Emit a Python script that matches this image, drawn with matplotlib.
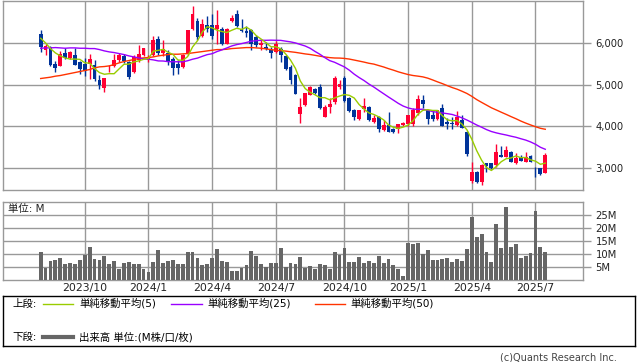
import numpy as np
import pandas as pd
import matplotlib
matplotlib.use('Agg')
import matplotlib.pyplot as plt

plt.rcParams['font.family'] = ['DejaVu Sans', 'Noto Sans CJK JP']

# 週足データ（2023/7/31 から 104 本）
dates = pd.date_range('2023-07-31', periods=104, freq='7D')

opens = [6232, 5848, 5912, 5496, 5456, 5768, 5656, 5712, 5552, 5496,
         5512, 5472, 5112, 4920, 5400, 5456, 5592, 5704, 5552, 5312,
         5592, 5712, 5592, 5728, 6112, 5768, 5776, 5632, 5496, 5432,
         5744, 6352, 6528, 6176, 6432, 6432, 6352, 6336, 5992, 6536,
         6712, 6352, 6296, 6312, 6152, 5952, 5912, 5832, 5792, 5872,
         5696, 5432, 5232, 4296, 4512, 4752, 4888, 4936, 4232, 4456,
         4592, 4936, 5176, 4672, 4392, 4168, 4408, 4472, 4112, 4232,
         3912, 4032, 3928, 3928, 4032, 4056, 4056, 4312, 4632, 4392,
         4272, 4168, 4432, 4112, 4088, 4032, 4152, 3872, 2688, 2912,
         2672, 3112, 3112, 3072, 3312, 3272, 3392, 3112, 3256, 3152,
         3288, 3000, 2992, 2872]
highs = [6312, 5992, 5928, 5568, 5808, 5888, 5808, 5888, 5576, 5656,
         5736, 5592, 5232, 5176, 5488, 5752, 5768, 5752, 5568, 5712,
         5952, 5896, 5712, 6168, 6168, 6072, 5832, 5672, 5592, 5736,
         6312, 6896, 6616, 6576, 6656, 6696, 6792, 6392, 6360, 6672,
         6792, 6576, 6408, 6352, 6192, 6112, 6032, 5912, 6048, 5912,
         5712, 5472, 5272, 4688, 4808, 4968, 4912, 5032, 4512, 4672,
         5208, 5128, 5208, 4712, 4408, 4400, 4672, 4480, 4272, 4248,
         4152, 4352, 3952, 4056, 4112, 4272, 4432, 4752, 4752, 4392,
         4392, 4400, 4536, 4192, 4216, 4368, 4272, 3880, 3136, 2936,
         3088, 3112, 3120, 3576, 3536, 3536, 3400, 3352, 3312, 3392,
         3312, 3032, 3000, 3352]
lows = [5792, 5712, 5456, 5312, 5456, 5624, 5632, 5472, 5272, 5208,
        5136, 5096, 4896, 4832, 5312, 5432, 5552, 5528, 5144, 5288,
        5552, 5688, 5552, 5688, 5712, 5688, 5472, 5232, 5272, 5408,
        5712, 6328, 6088, 6152, 6272, 6096, 5992, 5952, 5984, 6512,
        6392, 6272, 6152, 5832, 5912, 5848, 5832, 5656, 5768, 5552,
        5352, 5016, 4776, 4088, 4488, 4744, 4776, 4408, 4216, 4312,
        4536, 4888, 4592, 4352, 4152, 4160, 4352, 4136, 4088, 3872,
        3896, 3872, 3848, 3848, 4008, 4008, 4008, 4272, 4432, 4056,
        4136, 4160, 4008, 3928, 3928, 4008, 3952, 3288, 2648, 2632,
        2592, 2912, 2968, 3032, 3256, 3264, 3152, 3088, 3168, 3136,
        3136, 2792, 2832, 2872]
closes = [5912, 5928, 5488, 5408, 5752, 5656, 5792, 5488, 5376, 5336,
          5616, 5136, 5008, 5176, 5408, 5608, 5712, 5568, 5192, 5672,
          5736, 5896, 5672, 6072, 5768, 5856, 5552, 5408, 5408, 5712,
          6312, 6712, 6152, 6472, 6336, 6176, 6432, 5992, 6352, 6608,
          6416, 6296, 6256, 5992, 5952, 6008, 5856, 5768, 5992, 5712,
          5392, 5112, 4776, 4472, 4792, 4952, 4808, 4432, 4472, 4536,
          5176, 5032, 4616, 4376, 4216, 4392, 4488, 4152, 4192, 3928,
          4032, 3872, 3872, 4056, 4088, 4272, 4392, 4648, 4536, 4168,
          4176, 4392, 4008, 4048, 4048, 4216, 3952, 3336, 2912, 2672,
          3072, 3056, 2992, 3376, 3256, 3432, 3152, 3232, 3176, 3272,
          3152, 2992, 2856, 3312]
volume = [10.9, 4.8, 7.4, 7.8, 8.5, 6.2, 6.7, 6.2, 7.8, 9.8,
          12.8, 8.1, 7.8, 9.3, 6.2, 7.4, 4.3, 6.7, 7.0, 6.2,
          6.2, 4.3, 3.1, 7.0, 11.6, 6.6, 7.4, 7.8, 6.2, 6.2,
          10.9, 10.9, 8.5, 5.8, 6.2, 8.5, 12.0, 7.4, 7.0, 3.5,
          3.5, 4.7, 5.8, 11.2, 9.3, 6.2, 5.0, 6.6, 6.6, 12.4,
          5.0, 6.6, 6.2, 8.9, 4.8, 5.4, 4.3, 6.2, 5.8, 4.3,
          10.9, 9.8, 12.4, 7.0, 7.0, 8.9, 6.6, 7.4, 6.6, 9.3,
          6.6, 8.1, 5.8, 4.3, 1.6, 14.3, 14.0, 14.3, 10.1, 11.6,
          7.8, 7.8, 8.1, 8.5, 7.0, 8.1, 7.4, 12.0, 24.4, 16.7,
          17.8, 10.9, 7.0, 21.7, 12.4, 28.3, 12.8, 14.0, 8.5, 9.3,
          10.5, 26.7, 12.8, 10.9]

# 表示期間より前のデータを含む移動平均の先頭部分
ma5_head = [6120, 6008, 5872, 5768]
ma25_head = [5880, 5888, 5888, 5896, 5888, 5880, 5888, 5888, 5880, 5880,
             5872, 5872, 5848, 5816, 5792, 5776, 5752, 5728, 5696, 5672,
             5648, 5624, 5616, 5600]
ma50_head = [5152, 5168, 5184, 5208, 5224, 5248, 5272, 5296, 5320, 5344,
             5368, 5408, 5432, 5440, 5456, 5488, 5528, 5560, 5584, 5608,
             5632, 5648, 5656, 5672, 5696, 5712, 5728, 5736, 5736, 5744,
             5752, 5768, 5784, 5800, 5816, 5832, 5848, 5848, 5856, 5872,
             5880, 5888, 5896, 5896, 5888, 5880, 5864, 5848, 5832]

W, H = 638, 362
RED = '#ff0033'
BLUE = '#003399'
GRID = '#999999'


def box(l, t, r, b):
    return [l / W, 1 - b / H, (r - l) / W, (b - t) / H]


def ma(n, head):
    s = pd.Series(closes, dtype=float).rolling(n).mean().to_numpy()
    s[:len(head)] = head
    return s


o = np.array(opens)
h = np.array(highs)
l = np.array(lows)
c = np.array(closes)
x = np.arange(len(c))
up = c >= o
cols = np.where(up, RED, BLUE)

# 四半期の最初の週に目盛り
ticks, labels = [], []
for i in range(1, len(dates)):
    d = dates[i]
    if d.month in (1, 4, 7, 10) and d.month != dates[i - 1].month:
        ticks.append(i)
        labels.append(f'{d.year}/{d.month}')

fig = plt.figure(figsize=(W / 100, H / 100), dpi=100)
ax = fig.add_axes(box(3.3, 0.5, 583, 190))
axv = fig.add_axes(box(3.3, 201.5, 583, 280))

xlim = (-7.63, 110.7)

# ローソク足
ax.vlines(x, l, h, colors=cols, lw=1, zorder=3)
body = np.maximum(np.abs(c - o), 10)
ax.bar(x, body, bottom=np.minimum(o, c), width=0.78, color=cols, zorder=4)

ax.plot(x, ma(50, ma50_head), color='#ff3300', lw=1, zorder=5)
ax.plot(x, ma(25, ma25_head), color='#9900ff', lw=1, zorder=5)
ax.plot(x, ma(5, ma5_head), color='#99cc00', lw=1, zorder=5)

ax.set_xlim(*xlim)
ax.set_ylim(2471, 7028)
ax.set_yticks([3000, 4000, 5000, 6000])
ax.set_yticklabels([f'{v:,}' for v in [3000, 4000, 5000, 6000]])
ax.set_xticks(ticks)
ax.set_xticklabels([])

# 出来高
axv.bar(x, volume, width=0.78, color='#666666', zorder=3)
axv.set_xlim(*xlim)
axv.set_ylim(0, 30.4)
axv.set_yticks([5, 10, 15, 20, 25])
axv.set_yticklabels([f'{v}M' for v in [5, 10, 15, 20, 25]])
axv.set_xticks(ticks)
axv.set_xticklabels(labels)

for a in (ax, axv):
    a.yaxis.tick_right()
    a.grid(True, color=GRID, lw=1, zorder=0)
    a.tick_params(axis='y', length=6, width=1, color=GRID, pad=3,
                  labelsize=7.2, labelcolor='#222222')
    a.tick_params(axis='x', length=0, pad=2.5, labelsize=7.8,
                  labelcolor='#222222')
    for sp in a.spines.values():
        sp.set_color(GRID)
        sp.set_linewidth(1)

fig.text(8 / W, 1 - 209 / H, '単位: M', fontsize=7.5, va='center',
         color='#222222')

# 凡例
axl = fig.add_axes(box(3.3, 295.7, 634.7, 346))
axl.set_xlim(3.3, 634.7)
axl.set_ylim(346, 295.7)
axl.set_xticks([])
axl.set_yticks([])
for sp in axl.spines.values():
    sp.set_color('black')
    sp.set_linewidth(1)

fs = 7.5
axl.text(12, 303.5, '上段:', fontsize=fs, va='center')
axl.plot([43, 73], [303.5, 303.5], color='#99cc00', lw=1)
axl.text(79, 303.5, '単純移動平均(5)', fontsize=fs, va='center')
axl.plot([171, 202], [303.5, 303.5], color='#9900ff', lw=1)
axl.text(207, 303.5, '単純移動平均(25)', fontsize=fs, va='center')
axl.plot([315, 345], [303.5, 303.5], color='#ff3300', lw=1)
axl.text(350, 303.5, '単純移動平均(50)', fontsize=fs, va='center')
axl.text(12, 337, '下段:', fontsize=fs, va='center')
axl.plot([43, 73], [337, 337], color='#666666', lw=3)
axl.text(79, 337, '出来高 単位:(M株/口/枚)', fontsize=fs, va='center')

fig.text(617 / W, 1 - 357 / H, '(c)Quants Research Inc.', fontsize=7,
         ha='right', va='center', color='#444444')

fig.savefig('out.png', dpi=100)
